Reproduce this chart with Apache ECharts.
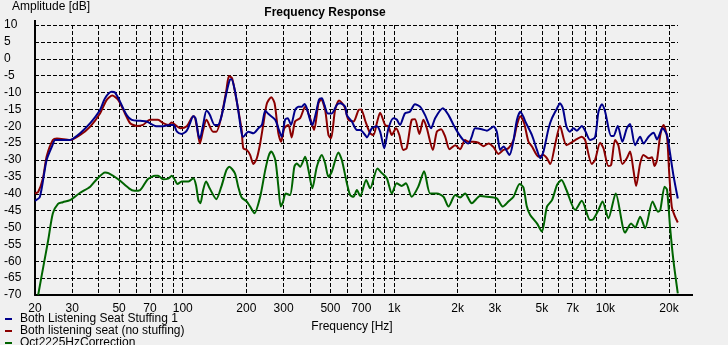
<!DOCTYPE html>
<html>
<head>
<meta charset="utf-8">
<script src="https://cdn.jsdelivr.net/npm/echarts@6/dist/echarts.min.js"></script>
<style>
  html, body { margin: 0; padding: 0; background: #f0f0f0; }
  #chart { width: 728px; height: 345px; }
</style>
</head>
<body>
<div id="chart"></div>
<script>
// Measured responses: frequency in Hz, amplitude in dB
const seriesNames = [
  'Both Listening Seat Stuffing 1',
  'Both listening seat (no stuffing)',
  'Oct2225HzCorrection'
];

const stuffedFreq = [20, 21.1, 22.7, 24.2, 24.9, 26.2, 29.3, 30.4, 32.7, 36.5, 40.6, 42.9, 46.1, 47.8, 50.5, 54.3, 57.4, 62.9, 67.5, 74, 80.8, 87.2, 90.5, 93.9, 98.9, 104.5, 108.3, 112.3, 115, 118.6, 120.6, 124.9, 129.5, 134.1, 141.6, 146.7, 152.3, 160.9, 166.9, 170.1, 176.4, 183, 190, 193.4, 204.4, 216, 228.2, 236.9, 245.7, 254.8, 274.2, 283.5, 294, 304.8, 314, 325.3, 340, 352.6, 366, 376.7, 386.7, 400.4, 410.6, 426.3, 442, 455.2, 468.3, 486, 507.2, 535.7, 555.5, 587, 598, 631.2, 667, 691.6, 729.7, 743.4, 784.9, 828.5, 859, 898, 940.7, 992.6, 1029, 1066, 1126, 1188, 1256, 1327, 1402, 1497, 1564, 1702, 1810, 1911, 2015, 2127, 2247, 2331, 2417, 2600, 2750, 2955, 3062, 3175, 3293, 3515, 3674, 3814, 3957, 4092, 4170, 4491, 4742, 4917, 5093, 5384, 5588, 5902, 6096, 6290, 6541, 6784, 7060, 7330, 7730, 8015, 8461, 8930, 9270, 9620, 9970, 10640, 10920, 11440, 12030, 12620, 13080, 13820, 14600, 15140, 16000, 16900, 17540, 18640, 19560, 20220, 20960, 22000];
const stuffedDb = [-42.1, -40.9, -30, -25.6, -24.1, -24.1, -24.1, -23.6, -22.1, -19.1, -15.2, -11.7, -9.8, -10, -12.7, -16.7, -18.1, -18.4, -18.6, -19.9, -20, -19.6, -19.6, -21.6, -22.3, -21.3, -19.1, -17, -17.6, -22.6, -23.6, -19.6, -15.4, -16.5, -19.6, -19.6, -17.2, -10.2, -6.3, -6.1, -9.3, -15.2, -22.1, -23.1, -21.6, -22.1, -20.6, -19.6, -15.4, -16.4, -18.1, -20.6, -23.1, -18.1, -17.6, -19.6, -15.2, -14.2, -14.2, -13.4, -14.7, -18.1, -19.6, -16.2, -12, -11.7, -13.7, -16.2, -16.2, -13.7, -13.2, -14.2, -16.7, -18.6, -21.1, -21.1, -22.6, -23.3, -20.6, -20, -21.6, -26.5, -20.6, -17.6, -18, -19.6, -16.2, -15.7, -13.5, -14.2, -16.7, -20.6, -17.6, -14.7, -16.7, -19.6, -22.1, -24.1, -25.1, -23.1, -20.6, -20.9, -21.3, -20.1, -21.6, -27, -26, -28.5, -24.1, -18.1, -15.7, -17.2, -18.5, -22.6, -27, -29.5, -27.5, -20.6, -17.6, -14.7, -13.2, -14.7, -20.1, -21.6, -20.6, -21.3, -19.9, -21.3, -24.1, -23.3, -15.7, -13.5, -15.7, -22.9, -22.9, -19.9, -24.6, -20.6, -19.3, -25.6, -23.1, -25.1, -23.1, -21.9, -23.9, -20.6, -22.6, -28, -34.4, -41.4];

const plainFreq = [20, 20.7, 21.8, 22.7, 24.3, 25.4, 29.3, 32.7, 36.5, 40.6, 43.7, 46.4, 49.5, 53.3, 56.4, 60.6, 64.9, 70, 76.4, 80.8, 85.4, 88.8, 93.9, 97.4, 104.5, 110.4, 113.2, 116.5, 120.6, 124.9, 129.5, 139, 144.2, 152.3, 160.9, 165.6, 171.2, 179.6, 190, 193.4, 200.9, 208.3, 216, 224.2, 232.5, 241.1, 250.3, 262.4, 272.1, 283.5, 292, 302.4, 316, 327.8, 340, 359.3, 379.6, 400.4, 418.4, 438.7, 451.8, 472, 489.3, 503.3, 525.8, 549.4, 582.4, 608, 642.4, 679, 698.5, 729.7, 770.5, 798.7, 828.5, 859, 907, 940.7, 976, 1022, 1059, 1105, 1147, 1211, 1256, 1317, 1376, 1429, 1526, 1594, 1670, 1745, 1830, 1947, 2052, 2167, 2247, 2372, 2506, 2648, 2799, 2955, 3116, 3293, 3477, 3674, 3814, 3957, 4125, 4325, 4491, 4826, 5093, 5290, 5485, 5795, 6096, 6541, 7195, 7730, 8015, 8620, 8930, 9440, 9790, 10330, 10640, 11110, 11510, 12030, 12620, 13080, 13570, 13970, 14600, 15140, 16000, 16600, 17080, 17540, 18180, 18840, 19560, 20020, 20600, 21350, 22000];
const plainDb = [-39.9, -39.5, -35.5, -29, -24.1, -23.6, -24.1, -22.6, -20.1, -16.2, -12.2, -10.9, -12.2, -16.2, -19.1, -19.9, -19.6, -18.1, -18.1, -19.1, -19.6, -18.9, -20, -20.6, -20, -17.4, -17, -20, -25.1, -21.1, -18.1, -21.6, -21.6, -17.2, -9.3, -5.1, -5.8, -12.2, -21.1, -26.5, -27, -28.5, -31.2, -29.5, -25.1, -19.1, -13.2, -11.4, -13.2, -22.1, -24.6, -20.6, -19.6, -23.3, -18.6, -17.6, -14.2, -17.6, -21.1, -13.2, -12, -15.2, -22.6, -23.6, -15.2, -12.4, -14.2, -18.1, -18.6, -15.2, -15, -18.3, -22.1, -22.6, -19.1, -16, -19.6, -20.1, -22.6, -20.6, -22.6, -27, -26.5, -18.1, -17.9, -22.3, -18.1, -20.6, -27, -21.6, -20.9, -23.1, -26.8, -25.6, -26.8, -24.1, -24.6, -24.6, -24.9, -25.9, -25.1, -26.2, -28.2, -27, -26.5, -24.1, -19.6, -17, -19.1, -24.6, -26, -29, -28.5, -29.5, -31.2, -25.1, -19.9, -25.6, -24.1, -23.1, -24.1, -31.2, -30, -24.9, -26.5, -31.8, -31.5, -24.1, -25.6, -31.2, -29.5, -27.5, -33, -37.7, -31, -28.5, -29.5, -29.2, -31.8, -30, -22.6, -19.6, -23.1, -33.5, -43.8, -46.8, -48.5];

const correctionFreq = [20.7, 21.9, 23.1, 24.3, 25.7, 27.1, 29.3, 32.7, 36.5, 39.2, 42.9, 44.5, 49.5, 55.7, 59, 62.9, 68.3, 74, 76.4, 80.8, 85.4, 88.8, 91.4, 94.5, 98.9, 106.5, 112.3, 115.6, 118.6, 121.2, 124.9, 129, 134.1, 144.2, 152.3, 160.9, 166, 176.4, 183, 190, 200.9, 208.3, 218.4, 232.5, 245.7, 255, 262.4, 274.2, 283.5, 291, 298, 307.1, 321.7, 337.4, 346.4, 359.3, 379.6, 393.5, 410.6, 431, 455.2, 472, 489.3, 507.2, 545.2, 566, 598, 619.5, 642.4, 667, 691.6, 737.7, 770.5, 834, 875.6, 924, 976, 1029, 1086, 1138, 1211, 1302, 1387, 1481, 1594, 1713, 1810, 1947, 2052, 2167, 2331, 2553, 2750, 3062, 3270, 3477, 3674, 3926, 4092, 4249, 4406, 4742, 5005, 5290, 5588, 5902, 6199, 6541, 7195, 7730, 8461, 8750, 9270, 9690, 10330, 11190, 12390, 13230, 13820, 14600, 15420, 16710, 17730, 18180, 19050, 19560, 20220, 20960, 22000];
const correctionDb = [-70, -61.6, -53.7, -45.8, -43, -42.5, -41.9, -39.7, -37.9, -35.7, -33.7, -33.9, -35.7, -38.4, -39.1, -38.9, -35.7, -34.7, -34.7, -35.7, -35.5, -34.7, -35.7, -37.1, -36.4, -36.4, -35.4, -37.5, -41.9, -42.8, -38.9, -36.4, -38.4, -41.6, -37.9, -33, -32, -33.9, -37.9, -41.1, -42.3, -43.8, -45.8, -40.9, -33, -28.8, -27.5, -30, -37.9, -43.8, -42.5, -39.9, -40.4, -32, -31, -32, -29, -33, -38.4, -32, -28.5, -31, -35, -33.5, -27.8, -30, -36.9, -40.4, -40.9, -38.9, -40.7, -35.9, -38.4, -32.5, -33.9, -35.4, -39.9, -36.9, -37.7, -36.9, -40.9, -37.9, -33.3, -39.9, -39.9, -40.9, -43.8, -40.4, -41.1, -39.9, -42.8, -40.7, -40.9, -41.4, -43.8, -42.3, -40.9, -37.1, -38.1, -43.8, -46.3, -48.8, -51.2, -43.8, -41.9, -37.4, -35.9, -38.9, -44.8, -42.1, -47.8, -47.6, -44.8, -42.3, -47.3, -39.9, -51.5, -48.8, -50, -46.8, -50.2, -42.3, -45.3, -44.8, -37.9, -38.8, -49.8, -59.6, -69.5];

// Frequency axis: labelled ticks and grid lines (Hz)
const xLabelFreqs = [20, 30, 50, 70, 100, 200, 300, 500, 700, 1000, 2000, 3000, 5000, 7000, 10000, 20000];
const xGridFreqs = [20, 30, 40, 50, 60, 70, 80, 90, 100, 200, 300, 400, 500, 600, 700, 800, 900,
  1000, 2000, 3000, 4000, 5000, 6000, 7000, 8000, 9000, 10000, 20000];
const freqMin = 20, freqMax = 22050;
const dbMin = -70, dbMax = 10, dbStep = 5;

const FONT = '"Liberation Sans", Arial, Helvetica, sans-serif';
const lg = Math.log10;

function pairs(freq, db) {
  return freq.map((f, i) => [lg(f), db[i]]);
}

function freqLabel(v) {
  const f = Math.round(Math.pow(10, v));
  return f >= 1000 ? (f / 1000) + 'k' : String(f);
}

const colors = { stuffed: '#00008b', plain: '#8b0000', correction: '#006400' };

const chart = echarts.init(document.getElementById('chart'), null, { renderer: 'canvas' });

chart.setOption({
  backgroundColor: '#f0f0f0',
  animation: false,
  textStyle: { fontFamily: FONT },
  grid: { left: 35, top: 25, right: 50, bottom: 50, containLabel: false },
  xAxis: {
    type: 'value',
    min: lg(freqMin),
    max: lg(freqMax),
    axisLine: { show: true, onZero: false, lineStyle: { color: '#000', width: 2 } },
    axisTick: { show: false, customValues: xGridFreqs.map(lg) },
    axisLabel: {
      customValues: xLabelFreqs.map(lg),
      formatter: freqLabel,
      color: '#000', fontSize: 12, fontFamily: FONT, margin: 8
    },
    splitLine: { show: true, lineStyle: { color: '#000', width: 1, type: [4, 2] } }
  },
  yAxis: {
    type: 'value',
    min: dbMin,
    max: dbMax,
    interval: dbStep,
    axisLine: { show: true, lineStyle: { color: '#000', width: 2 } },
    axisTick: { show: false },
    axisLabel: { color: '#000', fontSize: 12, fontFamily: FONT, align: 'left', margin: 31 },
    splitLine: { show: true, lineStyle: { color: '#000', width: 1, type: [4, 2] } }
  },
  legend: {
    orient: 'vertical',
    left: 5,
    top: 313,
    height: 60,
    padding: 0,
    itemWidth: 7,
    itemHeight: 2,
    itemGap: 0,
    icon: 'rect',
    data: [seriesNames[0], seriesNames[1], seriesNames[2]],
    textStyle: { color: '#000', fontSize: 12, fontFamily: FONT, lineHeight: 12, padding: [0, 0, 0, 3] }
  },
  graphic: [
    { type: 'text', left: 12, top: 1, style: { text: 'Amplitude [dB]', font: '12px ' + FONT, fill: '#000' } },
    { type: 'text', x: 325, y: 7, style: { text: 'Frequency Response', font: 'bold 12px ' + FONT, fill: '#000', textAlign: 'center' } },
    { type: 'text', x: 352, y: 321, style: { text: 'Frequency [Hz]', font: '12px ' + FONT, fill: '#000', textAlign: 'center' } },
    { type: 'line', shape: { x1: 677, y1: 295, x2: 693, y2: 295 }, style: { stroke: '#000', lineWidth: 2 } },
    { type: 'line', shape: { x1: 35, y1: 20, x2: 35, y2: 25 }, style: { stroke: '#000', lineWidth: 2 } }
  ],
  series: [
    {
      name: seriesNames[2], type: 'line', data: pairs(correctionFreq, correctionDb),
      showSymbol: false, smooth: 0.25, clip: true,
      itemStyle: { color: colors.correction }, lineStyle: { color: colors.correction, width: 2 }
    },
    {
      name: seriesNames[1], type: 'line', data: pairs(plainFreq, plainDb),
      showSymbol: false, smooth: 0.25, clip: true,
      itemStyle: { color: colors.plain }, lineStyle: { color: colors.plain, width: 2 }
    },
    {
      name: seriesNames[0], type: 'line', data: pairs(stuffedFreq, stuffedDb),
      showSymbol: false, smooth: 0.25, clip: true,
      itemStyle: { color: colors.stuffed }, lineStyle: { color: colors.stuffed, width: 2 }
    }
  ]
});
</script>
</body>
</html>
